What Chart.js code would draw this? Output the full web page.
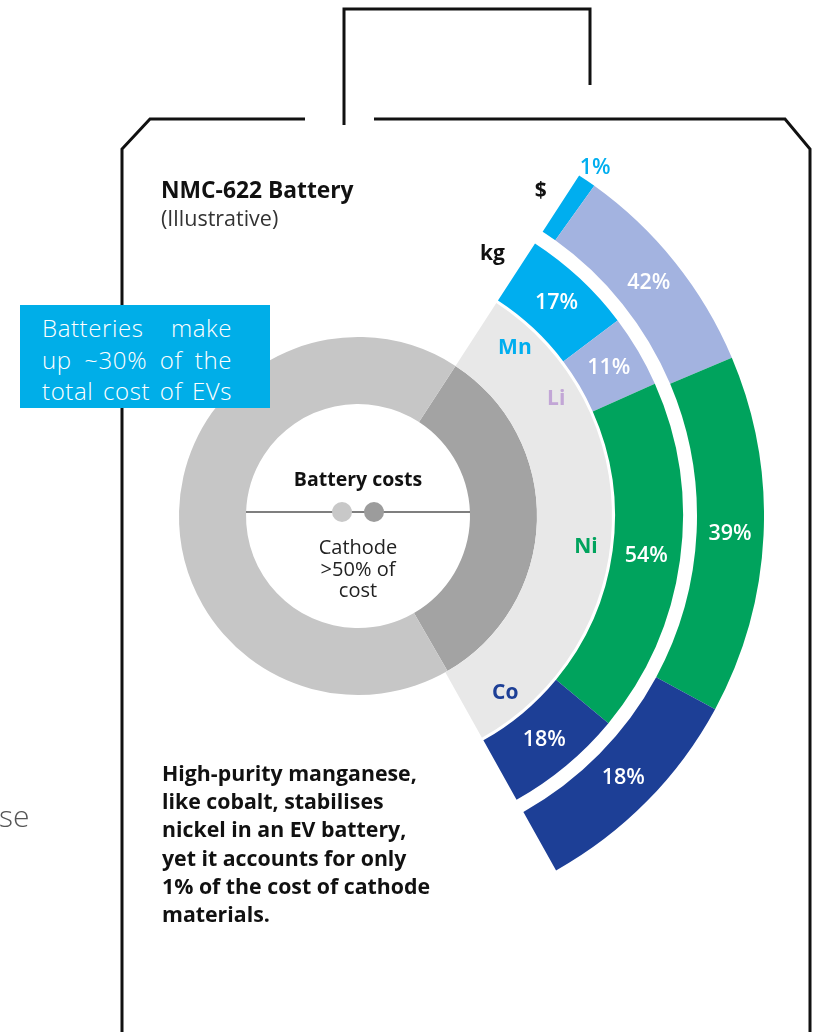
<!DOCTYPE html>
<html><head><meta charset="utf-8">
<script src="https://cdn.jsdelivr.net/npm/chart.js@4.4.1/dist/chart.umd.min.js"></script>
<style>
html,body{margin:0;padding:0;background:#fff;}
#wrap{position:relative;width:820px;height:1032px;overflow:hidden;font-family:'Open Sans',Lato,sans-serif;color:#111;}
#outline{position:absolute;left:0;top:0;}
#chartBox{position:absolute;left:-48px;top:110px;width:812px;height:812px;}
.t{position:absolute;white-space:nowrap;}
#box{position:absolute;left:20px;top:305px;width:250px;height:103px;background:#00aee8;}
.bl{position:absolute;left:22px;width:190px;font-size:24px;font-weight:300;letter-spacing:0.6px;color:#fff;line-height:30px;text-align:justify;text-align-last:justify;}
</style></head>
<body><div id="wrap">
<svg id="outline" width="820" height="1032">
 <g fill="none" stroke="#111" stroke-width="3" stroke-linejoin="miter">
  <polyline points="305,119 150,119 122,149 122,1040"/>
  <polyline points="374,119 785,119 810,149 810,1040"/>
  <polyline points="344,125 344,9 590,9 590,85"/>
 </g>
</svg>
<div id="chartBox"><canvas id="c" width="812" height="812"></canvas></div>

<div class="t" style="left:161px;top:175px;font-size:22.8px;font-weight:700;line-height:30px;">NMC-622 Battery</div>
<div class="t" style="left:161px;top:203px;font-size:21.5px;font-weight:400;line-height:30px;color:#333;">(Illustrative)</div>

<div id="box">
 <div class="bl" style="top:8px;">Batteries make</div>
 <div class="bl" style="top:40px;">up ~30% of the</div>
 <div class="bl" style="top:71px;">total cost of EVs</div>
</div>

<div class="t" style="left:258px;width:200px;text-align:center;top:465px;font-size:19.5px;font-weight:700;line-height:28px;">Battery costs</div>
<svg class="t" style="left:0;top:0;" width="820" height="1032">
 <line x1="246" y1="512" x2="470" y2="512" stroke="#555" stroke-width="1.6"/>
 <circle cx="342" cy="512" r="10" fill="#c8c8c8"/>
 <circle cx="374" cy="512" r="10" fill="#9c9c9c"/>
</svg>
<div class="t" style="left:258px;width:200px;text-align:center;top:536px;font-size:20px;font-weight:400;line-height:21.5px;color:#222;">Cathode<br>&gt;50% of<br>cost</div>

<div class="t" style="left:162px;top:759px;font-size:21.3px;font-weight:700;line-height:28.2px;">High-purity manganese,<br>like cobalt, stabilises<br>nickel in an EV battery,<br>yet it accounts for only<br>1% of the cost of cathode<br>materials.</div>

<div class="t" style="left:-1px;top:798px;font-size:30px;font-weight:300;line-height:36px;color:#555;">se</div>
</div>

<script>
// ---- data ----
const elements = ['Mn', 'Li', 'Ni', 'Co'];
const elementColors = ['#00aeef', '#a3b3e0', '#00a35d', '#1d3f96'];
const elementTextColors = ['#00aeef', '#c2a6d6', '#00a35d', '#1d3f96'];
const kgShare = [17, 11, 54, 18];           // share by weight (%)
const kgLabels = ['17%', '11%', '54%', '18%'];
const costLabels = ['1%', '42%', '39%', '18%'];
const costArcShare = [2.2, 26.7, 43.6, 27.5]; // share of the $ arc as drawn in the illustration
const batteryParts = ['Cathode', 'Other'];
const batteryArcShare = [32.5, 67.5];       // drawn share of the battery-cost ring
const ringStart = 33;      // degrees
const ringSweep = 117.8;   // degrees

const common = {borderWidth: 0, hoverBorderWidth: 0, hoverOffset: 0, offset: 0};
const clear = 'rgba(0,0,0,0)';
const labelFont = "'Open Sans', Lato, sans-serif";

const labelPlugin = {
  id: 'arcLabels',
  afterDatasetsDraw(chart) {
    const ctx = chart.ctx;
    const P = a => a.getProps(['x', 'y', 'startAngle', 'endAngle', 'innerRadius', 'outerRadius'], true);
    const at = (p, ang, r) => [p.x + r * Math.cos(ang), p.y + r * Math.sin(ang)];
    ctx.save();
    ctx.textAlign = 'center';
    ctx.textBaseline = 'middle';
    const deg = Math.PI / 180;

    // $ ring
    const costMeta = chart.getDatasetMeta(0).data;
    costMeta.forEach((arc, i) => {
      const p = P(arc);
      const mid = (p.startAngle + p.endAngle) / 2;
      ctx.font = '600 21.5px ' + labelFont;
      if (i === 0) {
        ctx.fillStyle = elementTextColors[0];
        const [x, y] = at(p, mid, p.outerRadius + 15);
        ctx.fillText(costLabels[i], x, y);
      } else {
        ctx.fillStyle = '#fff';
        const [x, y] = at(p, mid, (p.innerRadius + p.outerRadius) / 2);
        ctx.fillText(costLabels[i], x, y);
      }
    });
    {
      const p = P(costMeta[0]);
      ctx.fillStyle = '#111';
      ctx.font = '700 21px ' + labelFont;
      const [x, y] = at(p, p.startAngle - 3.6 * deg, (p.innerRadius + p.outerRadius) / 2);
      ctx.fillText(chart.data.datasets[0].label, x, y);
    }

    // kg ring + element names in the fan
    const kgMeta = chart.getDatasetMeta(2).data;
    const fan = P(chart.getDatasetMeta(4).data[0]);
    kgMeta.forEach((arc, i) => {
      const p = P(arc);
      const mid = (p.startAngle + p.endAngle) / 2;
      ctx.font = '600 21.5px ' + labelFont;
      ctx.fillStyle = '#fff';
      let [x, y] = at(p, mid, (p.innerRadius + p.outerRadius) / 2);
      ctx.fillText(kgLabels[i], x, y);
      ctx.font = '700 21px ' + labelFont;
      ctx.fillStyle = elementTextColors[i];
      [x, y] = at(fan, mid, fan.innerRadius + 0.68 * (fan.outerRadius - fan.innerRadius));
      ctx.fillText(elements[i], x, y);
    });
    {
      const p = P(kgMeta[0]);
      ctx.fillStyle = '#111';
      ctx.font = '700 21px ' + labelFont;
      const [x, y] = at(p, p.startAngle - 5.8 * deg, (p.innerRadius + p.outerRadius) / 2 + 3);
      ctx.fillText(chart.data.datasets[2].label, x, y);
    }
    ctx.restore();
  }
};

new Chart(document.getElementById('c'), {
  type: 'doughnut',
  data: {
    labels: elements,
    datasets: [
      Object.assign({label: '$', data: costArcShare, backgroundColor: elementColors, weight: 67, rotation: ringStart, circumference: ringSweep}, common),
      Object.assign({label: 'gap', data: [1], backgroundColor: clear, weight: 14, rotation: ringStart, circumference: ringSweep}, common),
      Object.assign({label: 'kg', data: kgShare, backgroundColor: elementColors, weight: 68, rotation: ringStart, circumference: ringSweep}, common),
      Object.assign({label: 'gap', data: [1], backgroundColor: clear, weight: 3, rotation: ringStart, circumference: ringSweep}, common),
      Object.assign({label: 'cathode', data: [1], backgroundColor: '#e8e8e8', weight: 75, rotation: ringStart, circumference: ringSweep}, common),
      Object.assign({label: 'Battery costs', data: batteryArcShare, backgroundColor: ['#a3a3a3', '#c6c6c6'], weight: 67, rotation: ringStart, circumference: 360}, common)
    ]
  },
  options: {
    responsive: false,
    animation: false,
    events: [],
    cutout: 112,
    radius: 406,
    layout: {padding: 0},
    plugins: {legend: {display: false}, tooltip: {enabled: false}}
  },
  plugins: [labelPlugin]
});
</script>
</body></html>
